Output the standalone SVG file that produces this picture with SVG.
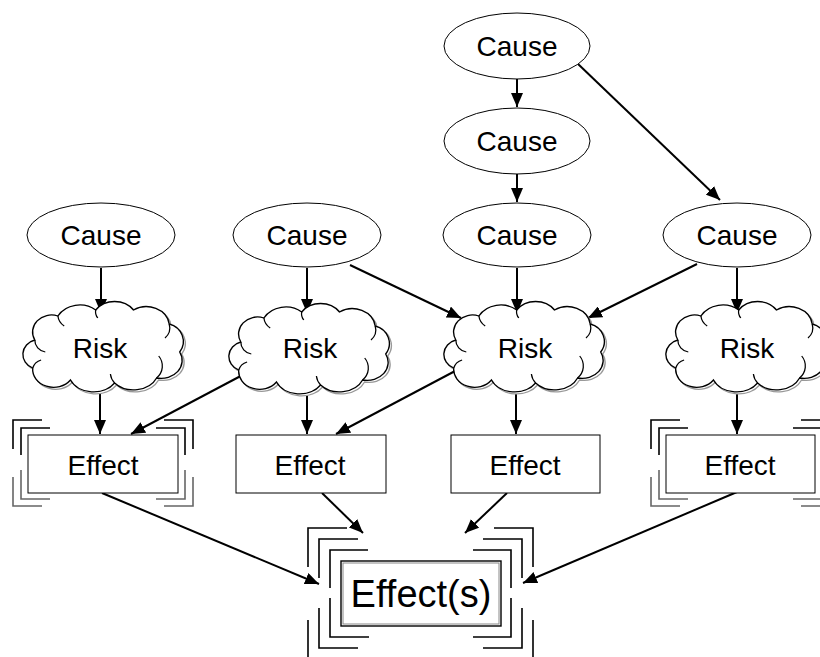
<svg xmlns="http://www.w3.org/2000/svg" width="820" height="657" viewBox="0 0 820 657">
<style>
text{font-family:"Liberation Sans",Arial,sans-serif;font-size:28px;fill:#000;text-anchor:middle}
.cause{fill:#fff;stroke:#000;stroke-width:1}
.cl{fill:#fff;stroke:#000;stroke-width:1.3}
.cls{fill:#fff;stroke:#999;stroke-width:1.3}
.curl{fill:none;stroke:#000;stroke-width:1.2}
.box{fill:#fff;stroke:#000;stroke-width:1}
.boxg{fill:none;stroke:#888;stroke-width:1}
.br{fill:none;stroke:#000;stroke-width:1.6}
.brg{fill:none;stroke:#666;stroke-width:1.6}
.edge{fill:none;stroke:#000;stroke-width:2;marker-end:url(#ah)}
</style>
<defs>
<marker id="ah" markerUnits="userSpaceOnUse" markerWidth="14" markerHeight="12" viewBox="0 0 14 12" refX="14" refY="6" orient="auto">
<path d="M0,0 L14,6 L0,12 Z" fill="#000"/>
</marker>
<path id="cloud" d="M -64,-6 A 18,17 0 0 1 -42,-30 A 24,22 0 0 1 -6,-36 A 22,20 0 0 1 30,-36 A 22,20 0 0 1 64,-22 A 18,18 0 0 1 74,6 A 20,18 0 0 1 52,32 A 24,20 0 0 1 12,37 A 24,20 0 0 1 -30,34 A 20,18 0 0 1 -66,22 A 16,15 0 0 1 -64,-6 Z"/>
<g id="curls">
<path class="curl" d="M -64,-6 A 12,12 0 0 0 -54,6"/>
<path class="curl" d="M -42,-30 A 14,14 0 0 0 -36,-20"/>
<path class="curl" d="M -6,-36 A 10,10 0 0 0 -4,-28"/>
<path class="curl" d="M 64,-22 A 14,14 0 0 1 60,-8"/>
<path class="curl" d="M 52,32 A 16,16 0 0 0 54,10"/>
<path class="curl" d="M 12,37 A 16,16 0 0 1 8,28"/>
<path class="curl" d="M -66,22 A 12,12 0 0 1 -58,14"/>
</g>
</defs>

<g id="connectors">
<line class="edge" x1="101" y1="268" x2="101" y2="313"/>
<line class="edge" x1="307" y1="268" x2="307" y2="313"/>
<line class="edge" x1="350" y1="265" x2="461" y2="318"/>
<line class="edge" x1="517" y1="268" x2="517" y2="313"/>
<line class="edge" x1="697" y1="264" x2="588" y2="318"/>
<line class="edge" x1="737" y1="268" x2="737" y2="313"/>
<line class="edge" x1="517" y1="79" x2="517" y2="107"/>
<line class="edge" x1="517" y1="174" x2="517" y2="202"/>
<line class="edge" x1="577" y1="63" x2="720" y2="200"/>
<line class="edge" x1="100" y1="385" x2="100" y2="434"/>
<line class="edge" x1="252" y1="370" x2="131" y2="434"/>
<line class="edge" x1="307" y1="388" x2="307" y2="434"/>
<line class="edge" x1="457" y1="370" x2="336" y2="434"/>
<line class="edge" x1="516" y1="385" x2="516" y2="434"/>
<line class="edge" x1="737" y1="385" x2="737" y2="434"/>
<line class="edge" x1="102" y1="493" x2="319" y2="584"/>
<line class="edge" x1="322" y1="493" x2="363" y2="533"/>
<line class="edge" x1="507" y1="493" x2="465" y2="533"/>
<line class="edge" x1="737" y1="492" x2="523" y2="583"/>
</g>

<g id="cause-top">
<ellipse class="cause" cx="517" cy="46" rx="73" ry="33"/>
<text x="517" y="56">Cause</text>
</g>
<g id="cause-mid">
<ellipse class="cause" cx="517" cy="141" rx="73" ry="33"/>
<text x="517" y="151">Cause</text>
</g>
<g id="cause-1">
<ellipse class="cause" cx="101" cy="235" rx="74" ry="32"/>
<text x="101" y="245">Cause</text>
</g>
<g id="cause-2">
<ellipse class="cause" cx="307" cy="235" rx="74" ry="32"/>
<text x="307" y="245">Cause</text>
</g>
<g id="cause-3">
<ellipse class="cause" cx="517" cy="235" rx="74" ry="32"/>
<text x="517" y="245">Cause</text>
</g>
<g id="cause-4">
<ellipse class="cause" cx="737" cy="235" rx="74" ry="32"/>
<text x="737" y="245">Cause</text>
</g>

<g id="risk-1">
<use href="#cloud" class="cls" transform="translate(104,348) scale(1.05,1)"/>
<use href="#cloud" class="cl" transform="translate(102,346) scale(1.05,1)"/>
<use href="#curls" transform="translate(102,346) scale(1.05,1)"/>
<text x="100" y="358">Risk</text>
</g>
<g id="risk-2">
<use href="#cloud" class="cls" transform="translate(310,350) scale(1.05,1)"/>
<use href="#cloud" class="cl" transform="translate(308,348) scale(1.05,1)"/>
<use href="#curls" transform="translate(308,348) scale(1.05,1)"/>
<text x="310" y="358">Risk</text>
</g>
<g id="risk-3">
<use href="#cloud" class="cls" transform="translate(525,348) scale(1.05,1)"/>
<use href="#cloud" class="cl" transform="translate(523,346) scale(1.05,1)"/>
<use href="#curls" transform="translate(523,346) scale(1.05,1)"/>
<text x="525" y="358">Risk</text>
</g>
<g id="risk-4">
<use href="#cloud" class="cls" transform="translate(747,348) scale(1.05,1)"/>
<use href="#cloud" class="cl" transform="translate(745,346) scale(1.05,1)"/>
<use href="#curls" transform="translate(745,346) scale(1.05,1)"/>
<text x="747" y="358">Risk</text>
</g>

<g id="effect-1">
<path class="br" d="M13,449 V420 H42 M21,455 V428 H50"/>
<path class="brg" d="M13,477 V506 H42 M21,470 V499 H50"/>
<path class="br" d="M193,449 V420 H164 M185,455 V428 H156"/>
<path class="brg" d="M193,477 V506 H164 M185,470 V499 H156"/>
<rect class="box" x="28" y="435" width="150" height="58"/>
<text x="103" y="475">Effect</text>
</g>
<g id="effect-2">
<rect class="box" x="236" y="435" width="150" height="58"/>
<text x="310" y="475">Effect</text>
</g>
<g id="effect-3">
<rect class="box" x="451" y="435" width="149" height="58"/>
<text x="525" y="475">Effect</text>
</g>
<g id="effect-4">
<path class="br" d="M651,449 V420 H680 M659,455 V428 H688"/>
<path class="brg" d="M651,477 V506 H680 M659,470 V499 H688"/>
<path class="br" d="M830,449 V420 H801 M822,455 V428 H793"/>
<path class="brg" d="M830,477 V506 H801 M822,470 V499 H793"/>
<rect class="box" x="666" y="435" width="149" height="58"/>
<text x="740" y="475">Effect</text>
</g>

<g id="effects-final">
<path class="br" d="M330,588 V550 H368 M319,578 V539 H358 M308,567 V528 H347"/>
<path class="br" d="M330,598 V637 H369 M319,608 V648 H358 M308,620 V659 H347"/>
<path class="br" d="M511,588 V550 H473 M522,578 V539 H483 M533,567 V528 H494"/>
<path class="br" d="M511,598 V637 H473 M522,608 V648 H483 M533,620 V659 H494"/>
<rect class="box" x="341" y="561" width="160" height="65" style="stroke-width:1.4"/>
<rect class="boxg" x="343" y="563" width="156" height="61"/>
<text x="421" y="607" style="font-size:38px">Effect(s)</text>
</g>
</svg>
